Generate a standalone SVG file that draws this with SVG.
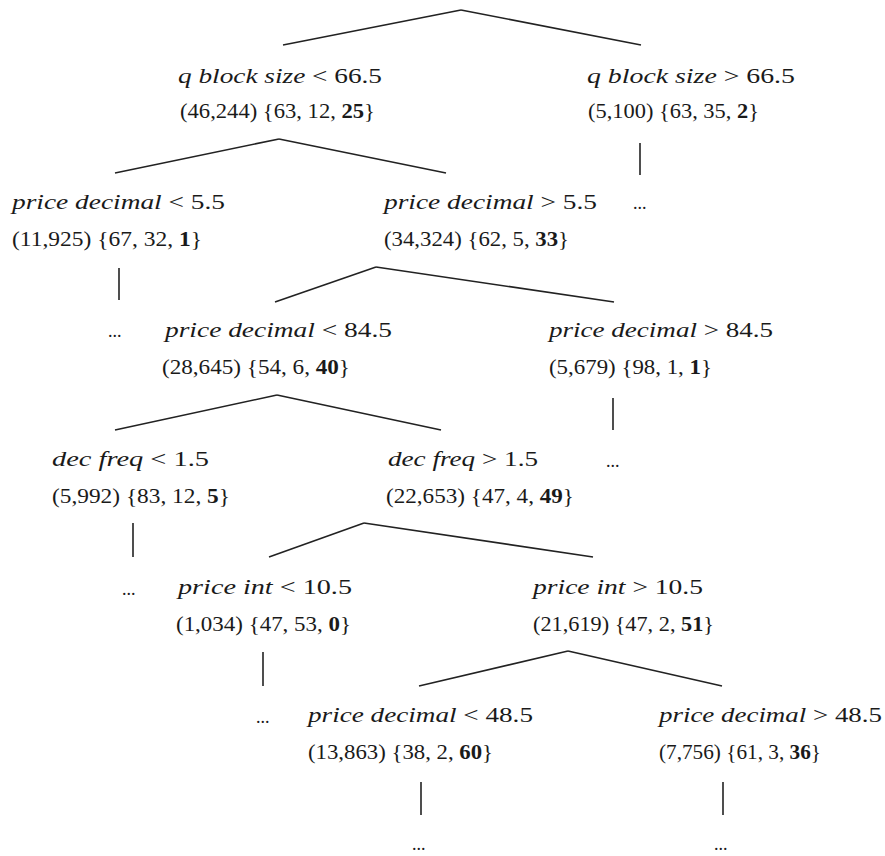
<svg xmlns="http://www.w3.org/2000/svg" width="885" height="856" viewBox="0 0 885 856">
<style>
text{font-family:'Liberation Serif',serif;font-size:21px;fill:#1a1a1a}
.i{font-style:italic}
.b{font-weight:bold}
.e{font-size:18px}
line{stroke:#222;stroke-width:1.6}
</style>
<rect width="885" height="856" fill="#fff"/>
<g id="connectors">
<line x1="461" y1="10" x2="283" y2="45"/><line x1="461" y1="10" x2="641" y2="45"/>
<line x1="640" y1="143" x2="640" y2="175"/>
<line x1="279" y1="139" x2="115" y2="173"/><line x1="279" y1="139" x2="446" y2="173"/>
<line x1="119" y1="268" x2="119" y2="300"/>
<line x1="376" y1="267" x2="275" y2="302"/><line x1="376" y1="267" x2="614" y2="302"/>
<line x1="613" y1="398" x2="613" y2="430"/>
<line x1="277" y1="395" x2="115" y2="430"/><line x1="277" y1="395" x2="441" y2="430"/>
<line x1="133" y1="523" x2="133" y2="557"/>
<line x1="364" y1="523" x2="269" y2="557"/><line x1="364" y1="523" x2="593" y2="557"/>
<line x1="263" y1="652" x2="263" y2="686"/>
<line x1="568" y1="651" x2="419" y2="686"/><line x1="568" y1="651" x2="722" y2="686"/>
<line x1="421" y1="782" x2="421" y2="815"/>
<line x1="723" y1="782" x2="723" y2="815"/>
</g>
<g id="n1">
<text x="178" y="83" textLength="204" lengthAdjust="spacingAndGlyphs"><tspan class="i">q block size</tspan> &lt; 66.5</text>
<text x="180" y="118" textLength="195" lengthAdjust="spacingAndGlyphs">(46,244) {63, 12, <tspan class="b">25</tspan>}</text>
</g>
<g id="n2">
<text x="587" y="83" textLength="208" lengthAdjust="spacingAndGlyphs"><tspan class="i">q block size</tspan> &gt; 66.5</text>
<text x="588" y="118" textLength="171" lengthAdjust="spacingAndGlyphs">(5,100) {63, 35, <tspan class="b">2</tspan>}</text>
</g>
<g id="e2"><text class="e" x="633" y="209">...</text></g>
<g id="n3">
<text x="12" y="209" textLength="213" lengthAdjust="spacingAndGlyphs"><tspan class="i">price decimal</tspan> &lt; 5.5</text>
<text x="12" y="246" textLength="190" lengthAdjust="spacingAndGlyphs">(11,925) {67, 32, <tspan class="b">1</tspan>}</text>
</g>
<g id="n4">
<text x="384" y="209" textLength="213" lengthAdjust="spacingAndGlyphs"><tspan class="i">price decimal</tspan> &gt; 5.5</text>
<text x="384" y="246" textLength="185" lengthAdjust="spacingAndGlyphs">(34,324) {62, 5, <tspan class="b">33</tspan>}</text>
</g>
<g id="e3"><text class="e" x="108" y="337">...</text></g>
<g id="n5">
<text x="165" y="337" textLength="227" lengthAdjust="spacingAndGlyphs"><tspan class="i">price decimal</tspan> &lt; 84.5</text>
<text x="162" y="374" textLength="188" lengthAdjust="spacingAndGlyphs">(28,645) {54, 6, <tspan class="b">40</tspan>}</text>
</g>
<g id="n6">
<text x="549" y="337" textLength="224" lengthAdjust="spacingAndGlyphs"><tspan class="i">price decimal</tspan> &gt; 84.5</text>
<text x="549" y="374" textLength="163" lengthAdjust="spacingAndGlyphs">(5,679) {98, 1, <tspan class="b">1</tspan>}</text>
</g>
<g id="e6"><text class="e" x="606" y="467">...</text></g>
<g id="n7">
<text x="52" y="466" textLength="157" lengthAdjust="spacingAndGlyphs"><tspan class="i">dec freq</tspan> &lt; 1.5</text>
<text x="52" y="503" textLength="178" lengthAdjust="spacingAndGlyphs">(5,992) {83, 12, <tspan class="b">5</tspan>}</text>
</g>
<g id="n8">
<text x="388" y="466" textLength="150" lengthAdjust="spacingAndGlyphs"><tspan class="i">dec freq</tspan> &gt; 1.5</text>
<text x="386" y="503" textLength="188" lengthAdjust="spacingAndGlyphs">(22,653) {47, 4, <tspan class="b">49</tspan>}</text>
</g>
<g id="e7"><text class="e" x="122" y="595">...</text></g>
<g id="n9">
<text x="178" y="594" textLength="174" lengthAdjust="spacingAndGlyphs"><tspan class="i">price int</tspan> &lt; 10.5</text>
<text x="176" y="631" textLength="175" lengthAdjust="spacingAndGlyphs">(1,034) {47, 53, <tspan class="b">0</tspan>}</text>
</g>
<g id="n10">
<text x="533" y="594" textLength="170" lengthAdjust="spacingAndGlyphs"><tspan class="i">price int</tspan> &gt; 10.5</text>
<text x="533" y="631" textLength="181" lengthAdjust="spacingAndGlyphs">(21,619) {47, 2, <tspan class="b">51</tspan>}</text>
</g>
<g id="e9"><text class="e" x="256" y="723">...</text></g>
<g id="n11">
<text x="308" y="722" textLength="225" lengthAdjust="spacingAndGlyphs"><tspan class="i">price decimal</tspan> &lt; 48.5</text>
<text x="308" y="759" textLength="185" lengthAdjust="spacingAndGlyphs">(13,863) {38, 2, <tspan class="b">60</tspan>}</text>
</g>
<g id="n12">
<text x="659" y="722" textLength="223" lengthAdjust="spacingAndGlyphs"><tspan class="i">price decimal</tspan> &gt; 48.5</text>
<text x="659" y="759" textLength="162" lengthAdjust="spacingAndGlyphs">(7,756) {61, 3, <tspan class="b">36</tspan>}</text>
</g>
<g id="e11"><text class="e" x="412" y="850">...</text></g>
<g id="e12"><text class="e" x="714" y="850">...</text></g>
</svg>
